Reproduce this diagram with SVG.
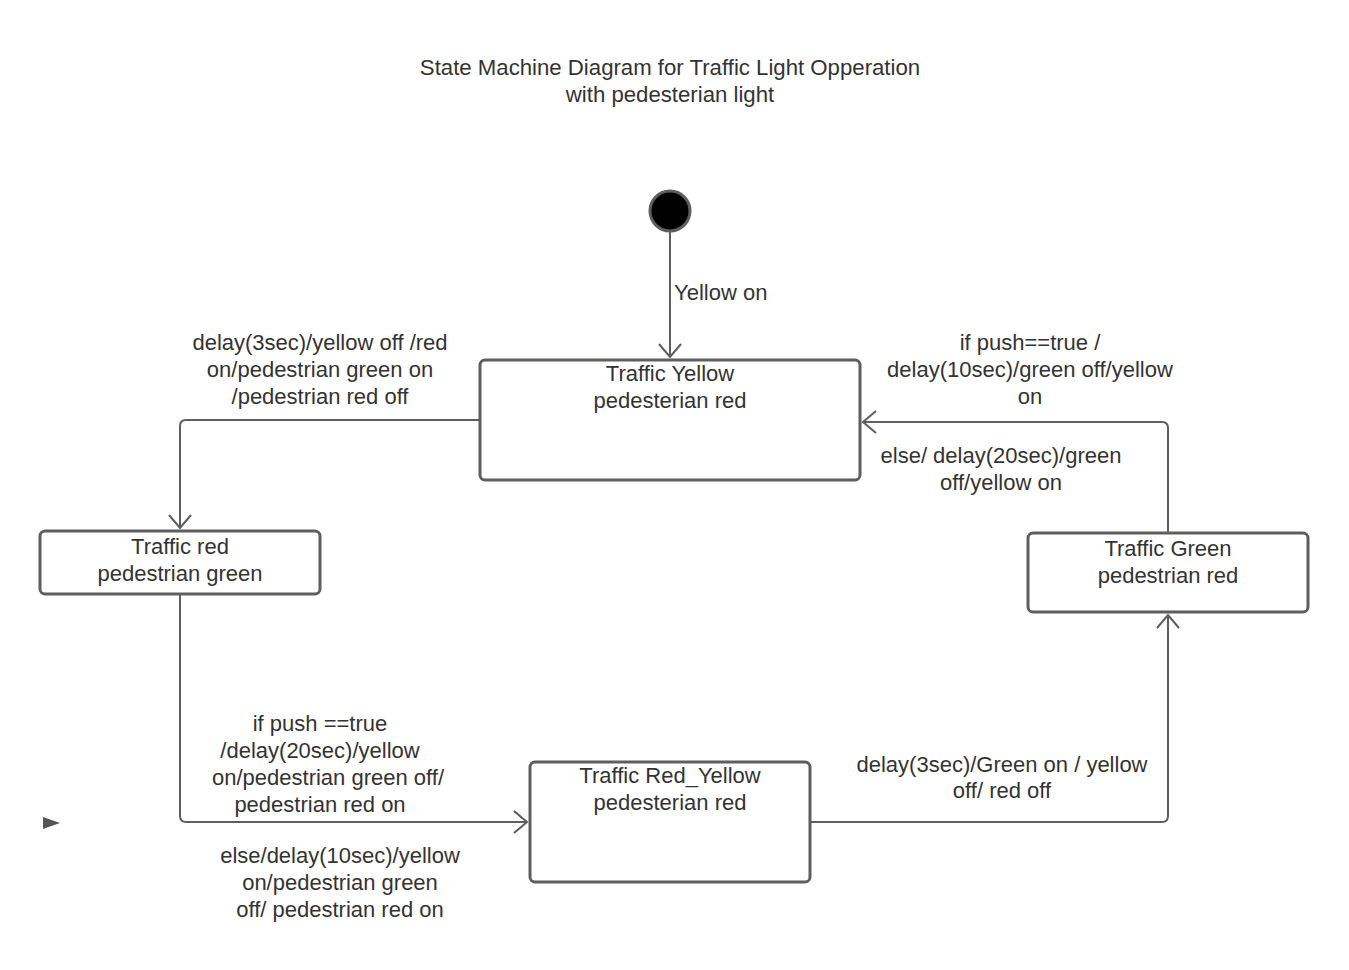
<svg xmlns="http://www.w3.org/2000/svg" width="1349" height="970" viewBox="0 0 1349 970">
<defs>
<style>
text{font-family:"Liberation Sans",Arial,sans-serif;font-size:22px;fill:#333333}
.c{text-anchor:middle}
.state{fill:#ffffff;stroke:#5e5e5e;stroke-width:3}
.edge{fill:none;stroke:#5e5e5e;stroke-width:2}
</style>
<marker id="open" markerUnits="userSpaceOnUse" markerWidth="26" markerHeight="26" viewBox="0 0 26 26" refX="21" refY="13" orient="auto">
<path d="M8,2 L21,13 L8,24" fill="none" stroke="#5e5e5e" stroke-width="2"/>
</marker>
</defs>
<rect width="1349" height="970" fill="#ffffff"/>
<g id="title">
<text class="c" x="670" y="75" style="font-size:22.2px">State Machine Diagram for Traffic Light Opperation</text>
<text class="c" x="670" y="102" style="font-size:22.2px">with pedesterian light</text>
</g>
<g id="connectors">
<path class="edge" d="M670,231 L670,357" marker-end="url(#open)"/>
<path class="edge" d="M480,420 L186,420 Q180,420 180,426 L180,528" marker-end="url(#open)"/>
<path class="edge" d="M180,594 L180,816 Q180,822 186,822 L527,822" marker-end="url(#open)"/>
<path class="edge" d="M810,822 L1162,822 Q1168,822 1168,816 L1168,615" marker-end="url(#open)"/>
<path class="edge" d="M1168,533 L1168,428 Q1168,422 1162,422 L863,422" marker-end="url(#open)"/>
<text x="674" y="300">Yellow on</text>
<text class="c" x="320" y="350">delay(3sec)/yellow off /red</text>
<text class="c" x="320" y="377">on/pedestrian green on</text>
<text class="c" x="320" y="404">/pedestrian red off</text>
<text class="c" x="1030" y="350">if push==true /</text>
<text class="c" x="1030" y="377">delay(10sec)/green off/yellow</text>
<text class="c" x="1030" y="404">on</text>
<text class="c" x="1001" y="463">else/ delay(20sec)/green</text>
<text class="c" x="1001" y="490">off/yellow on</text>
<text class="c" x="320" y="731">if push ==true</text>
<text class="c" x="320" y="758">/delay(20sec)/yellow</text>
<text class="c" x="328" y="785">on/pedestrian green off/</text>
<text class="c" x="320" y="812">pedestrian red on</text>
<text class="c" x="340" y="863">else/delay(10sec)/yellow</text>
<text class="c" x="340" y="890">on/pedestrian green</text>
<text class="c" x="340" y="917">off/ pedestrian red on</text>
<text class="c" x="1002" y="772">delay(3sec)/Green on / yellow</text>
<text class="c" x="1002" y="798">off/ red off</text>
</g>
<g id="initial">
<circle cx="670" cy="211" r="20" fill="#000000" stroke="#5e5e5e" stroke-width="3"/>
</g>
<g id="traffic-yellow">
<rect class="state" x="480" y="360" width="380" height="120" rx="5"/>
<text class="c" x="670" y="381">Traffic Yellow</text>
<text class="c" x="670" y="408">pedesterian red</text>
</g>
<g id="traffic-red">
<rect class="state" x="40" y="531" width="280" height="63" rx="5"/>
<text class="c" x="180" y="554">Traffic red</text>
<text class="c" x="180" y="581">pedestrian green</text>
</g>
<g id="traffic-green">
<rect class="state" x="1028" y="533" width="280" height="79" rx="5"/>
<text class="c" x="1168" y="556">Traffic Green</text>
<text class="c" x="1168" y="583">pedestrian red</text>
</g>
<g id="traffic-red-yellow">
<rect class="state" x="530" y="762" width="280" height="120" rx="5"/>
<text class="c" x="670" y="783">Traffic Red_Yellow</text>
<text class="c" x="670" y="810">pedesterian red</text>
</g>
<polygon points="43,817 60,823 43,829" fill="#555555"/>
</svg>
